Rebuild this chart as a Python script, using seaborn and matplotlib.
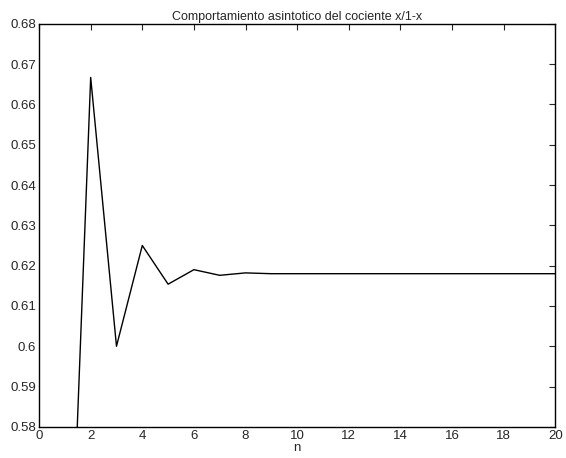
import numpy as np
import pandas as pd
import seaborn as sns
import matplotlib.pyplot as plt

# values of the ratio
n = [1, 2, 3, 4, 5, 6, 7, 8, 9, 10, 11, 12, 13, 14, 15, 16, 17, 18, 19, 20]
x = [0.5, 0.6667, 0.6, 0.625, 0.6154, 0.6190, 0.6176, 0.6182, 0.6180, 0.6180,
     0.6180, 0.6180, 0.6180, 0.6180, 0.6180, 0.6180, 0.6180, 0.6180, 0.6180, 0.6180]
xticks = [0, 2, 4, 6, 8, 10, 12, 14, 16, 18, 20]
yticks = [0.58, 0.59, 0.60, 0.61, 0.62, 0.63, 0.64, 0.65, 0.66, 0.67, 0.68]

df = pd.DataFrame({"n": n, "x": x})

sns.set_style("white")
plt.rcParams['font.family'] = ['Liberation Sans', 'DejaVu Sans']

fig = plt.figure(figsize=(5.66, 4.58), dpi=100)
ax = fig.add_axes([0.069, 0.068, 0.912, 0.88])
sns.lineplot(data=df, x="n", y="x", color="black", linewidth=1.0, ax=ax)

ax.set_xlim(0, 20)
ax.set_ylim(0.58, 0.68)
ax.set_xticks(xticks)
ax.set_yticks(yticks)
ax.set_yticklabels([f"{v:g}" for v in yticks])
ax.tick_params(direction="in", top=True, right=True, length=4, labelsize=9.5, pad=2)
for s in ax.spines.values():
    s.set_color("black")
    s.set_linewidth(1.0)
ax.set_xlabel("n", fontsize=9.5, labelpad=0)
ax.set_ylabel("")
ax.set_title("Comportamiento asintotico del cociente x/1-x", fontsize=9, pad=3)

fig.savefig("out.png", dpi=100)
